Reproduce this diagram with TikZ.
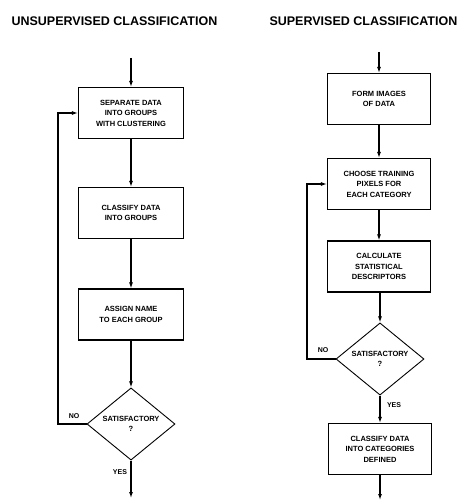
\documentclass[tikz,border=0pt]{standalone}
\usepackage{fontspec}
\setmainfont{Liberation Sans}
\usepackage{tikz}
\usetikzlibrary{shapes.geometric, arrows.meta, positioning}
\tikzset{
  box/.style={rectangle, draw, line width=1.1pt, minimum width=105pt,
    minimum height=51pt, align=center, inner sep=2pt,
    font=\fontsize{7.5}{10.5}\selectfont\bfseries},
  decision/.style={diamond, draw, line width=0.9pt, minimum width=88pt,
    minimum height=66pt, inner sep=0pt, align=center,
    font=\fontsize{7.5}{10}\selectfont\bfseries},
  arrow/.style={-{Latex[length=6pt, width=4pt]}, line width=1.1pt},
  lbl/.style={font=\fontsize{7}{8}\selectfont\bfseries},
  heading/.style={anchor=west, font=\fontsize{12.5}{14}\selectfont\bfseries}
}

\begin{document}
\begin{tikzpicture}[x=1pt, y=-1pt]
  \useasboundingbox (0,0) rectangle (468,500);

  % Titles
  \node[heading] (utitle) at (8, 21) {UNSUPERVISED CLASSIFICATION};
  \node[heading] (stitle) at (266, 21) {SUPERVISED CLASSIFICATION};

  % Unsupervised column
  \coordinate (ustart) at (131, 58);
  \node[box] (separate) at (131, 113) {SEPARATE DATA\\INTO GROUPS\\WITH CLUSTERING};
  \node[box] (classgrp) at (131, 213) {CLASSIFY DATA\\INTO GROUPS};
  \node[box] (assign) at (131, 314.5) {ASSIGN NAME\\TO EACH GROUP};
  \node[decision] (usat) at (131, 424) {SATISFACTORY\\?};
  \coordinate (uend) at (131, 498);
  \coordinate (uloop) at (58, 424);

  % Supervised column
  \coordinate (sstart) at (379, 52);
  \node[box, minimum width=103pt] (form) at (379, 99) {FORM IMAGES\\OF DATA};
  \node[box, minimum width=103pt] (choose) at (379, 184) {CHOOSE TRAINING\\PIXELS FOR\\EACH CATEGORY};
  \node[box, minimum width=103pt] (calc) at (379, 266.5) {CALCULATE\\STATISTICAL\\DESCRIPTORS};
  \node[decision] (ssat) at (380, 359) {SATISFACTORY\\?};
  \node[box, minimum width=103pt] (classcat) at (380, 449) {CLASSIFY DATA\\INTO CATEGORIES\\DEFINED};
  \coordinate (send) at (380, 500);
  \coordinate (sloop) at (307, 359);

  % Labels
  \node[lbl] (uno) at (74, 416) {NO};
  \node[lbl] (uyes) at (120, 472) {YES};
  \node[lbl] (sno) at (323, 350) {NO};
  \node[lbl] (syes) at (394, 405) {YES};

  % Arrows
  \draw[arrow] (ustart) -- (separate);
  \draw[arrow] (separate) -- (classgrp);
  \draw[arrow] (classgrp) -- (assign);
  \draw[arrow] (assign) -- (usat);
  \draw[arrow] (usat) -- (uend);
  \draw[arrow] (usat.west) -- (uloop) |- (separate.west);

  \draw[arrow] (sstart) -- (form);
  \draw[arrow] (form) -- (choose);
  \draw[arrow] (choose) -- (calc);
  \draw[arrow] (calc.south -| ssat.north) -- (ssat);
  \draw[arrow] (ssat) -- (classcat);
  \draw[arrow] (classcat.south -| send) -- (send);
  \draw[arrow] (ssat.west) -- (sloop) |- (choose.west);
\end{tikzpicture}
\end{document}
